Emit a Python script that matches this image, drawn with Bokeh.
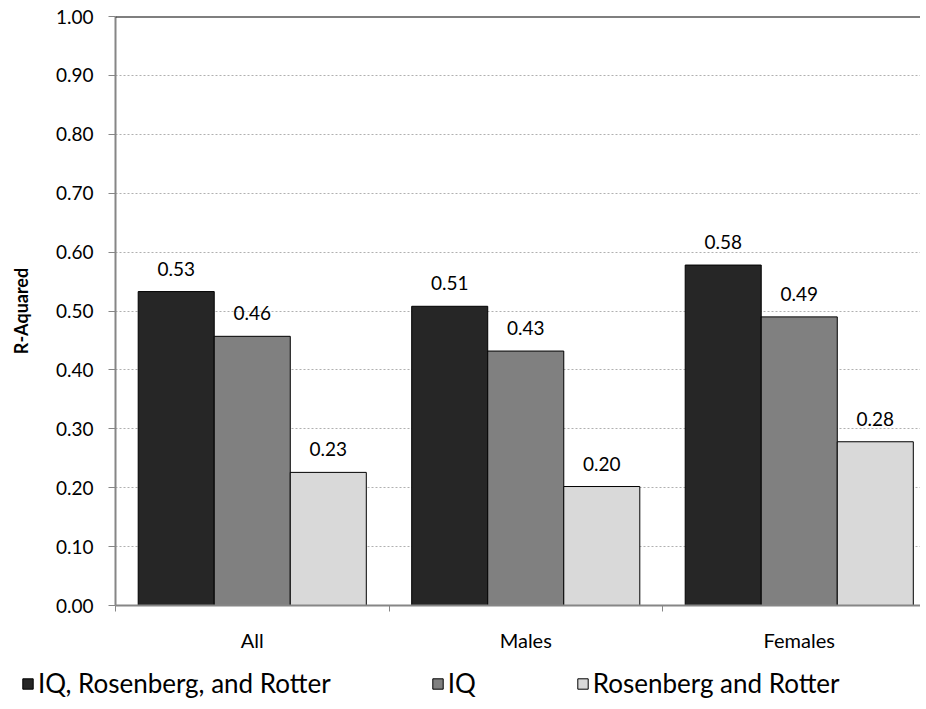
from bokeh.plotting import figure
from bokeh.models import (ColumnDataSource, Range1d, FixedTicker, Span, Legend,
                          LegendItem, NumeralTickFormatter)
from bokeh.core.properties import value
from bokeh.embed import file_html
from bokeh.resources import INLINE

# ---- data ----
categories = ["All", "Males", "Females"]
series_names = ["IQ, Rosenberg, and Rotter", "IQ", "Rosenberg and Rotter"]
iq_ros_rot = [0.533, 0.508, 0.578]
iq_only = [0.457, 0.432, 0.490]
ros_rot = [0.226, 0.202, 0.278]
y_ticks = [0.0, 0.1, 0.2, 0.3, 0.4, 0.5, 0.6, 0.7, 0.8, 0.9, 1.0]

colors = ["#262626", "#808080", "#d9d9d9"]
FONT = "Lato"
W = 920

p = figure(width=W, height=660, output_backend="svg", toolbar_location=None,
           x_range=Range1d(0, (W - 115) / 273.5), y_range=Range1d(0, 1.0),
           min_border_left=115, min_border_top=16, min_border_right=0,
           min_border_bottom=55)
p.outline_line_color = None
p.background_fill_color = "white"
p.border_fill_color = "white"

centers = [i + 0.5 for i in range(len(categories))]
bw = 0.278
offsets = [-bw, 0.0, bw]
all_series = [iq_ros_rot, iq_only, ros_rot]

for vals, off, col in zip(all_series, offsets, colors):
    src = ColumnDataSource(dict(x=[c + off for c in centers], top=vals,
                                lab=["%.2f" % v for v in vals]))
    p.vbar(x="x", top="top", bottom=0, width=bw, source=src,
           fill_color=col, line_color="black", line_width=1)
    p.text(x="x", y="top", text="lab", source=src, text_align="center",
           text_baseline="bottom", y_offset=-16, text_font=value(FONT),
           text_font_size="19px", text_color="black")

# top line at 1.00
p.add_layout(Span(location=1.0, dimension="width", line_color="black",
                  line_width=2))

# y axis
p.yaxis.ticker = FixedTicker(ticks=y_ticks)
p.yaxis.formatter = NumeralTickFormatter(format="0.00")
p.yaxis.axis_line_color = "#868686"
p.yaxis.axis_line_width = 2
p.yaxis.major_tick_line_color = "#868686"
p.yaxis.major_tick_out = 7
p.yaxis.major_tick_in = 0
p.yaxis.minor_tick_line_color = None
p.yaxis.major_label_text_font = FONT
p.yaxis.major_label_text_font_size = "19px"
p.yaxis.major_label_text_color = "black"
p.yaxis.major_label_standoff = 15
p.yaxis.axis_label = "R-Aquared"
p.yaxis.axis_label_text_font = FONT
p.yaxis.axis_label_text_font_size = "18px"
p.yaxis.axis_label_text_font_style = "bold"
p.yaxis.axis_label_text_color = "black"
p.yaxis.axis_label_standoff = 21

# x axis
p.xaxis.ticker = FixedTicker(ticks=centers, minor_ticks=[0, 1, 2, 3])
p.xaxis.major_label_overrides = {c: n for c, n in zip(centers, categories)}
p.xaxis.axis_line_color = "#868686"
p.xaxis.axis_line_width = 2
p.xaxis.major_tick_line_color = None
p.xaxis.minor_tick_line_color = "#868686"
p.xaxis.minor_tick_out = 6
p.xaxis.minor_tick_in = 0
p.xaxis.major_label_text_font = FONT
p.xaxis.major_label_text_font_size = "20px"
p.xaxis.major_label_text_color = "black"
p.xaxis.major_label_standoff = 16

# grid
p.xgrid.grid_line_color = None
p.ygrid.ticker = FixedTicker(ticks=y_ticks[1:-1])
p.ygrid.grid_line_color = "#b0b0b0"
p.ygrid.grid_line_dash = "2 2"
p.ygrid.grid_line_width = 1

# legend strip below the chart (separate root, so its frame spans the full width)
lg = figure(width=W, height=45, output_backend="svg", toolbar_location=None,
            x_range=Range1d(0, 1), y_range=Range1d(0, 1),
            x_axis_location=None, y_axis_location=None,
            min_border_left=0, min_border_right=0,
            min_border_top=0, min_border_bottom=0)
lg.grid.visible = False
lg.outline_line_color = None
lg_src = ColumnDataSource(dict(x=[5.0], top=[0.5]))
dummies = [lg.vbar(x="x", top="top", width=0.1, source=lg_src,
                   fill_color=col, line_color="black", line_width=1)
           for col in colors]
legend = Legend(items=[LegendItem(label=n, renderers=[r])
                       for n, r in zip(series_names, dummies)],
                orientation="horizontal", location=(21, 6),
                label_text_font=FONT, label_text_font_size="26px",
                label_text_color="black",
                glyph_width=13, glyph_height=13, spacing=100,
                label_standoff=4, padding=0, margin=0,
                border_line_color=None, background_fill_alpha=0)
lg.add_layout(legend, "center")

open("out.html", "w").write(file_html([p, lg], INLINE))
